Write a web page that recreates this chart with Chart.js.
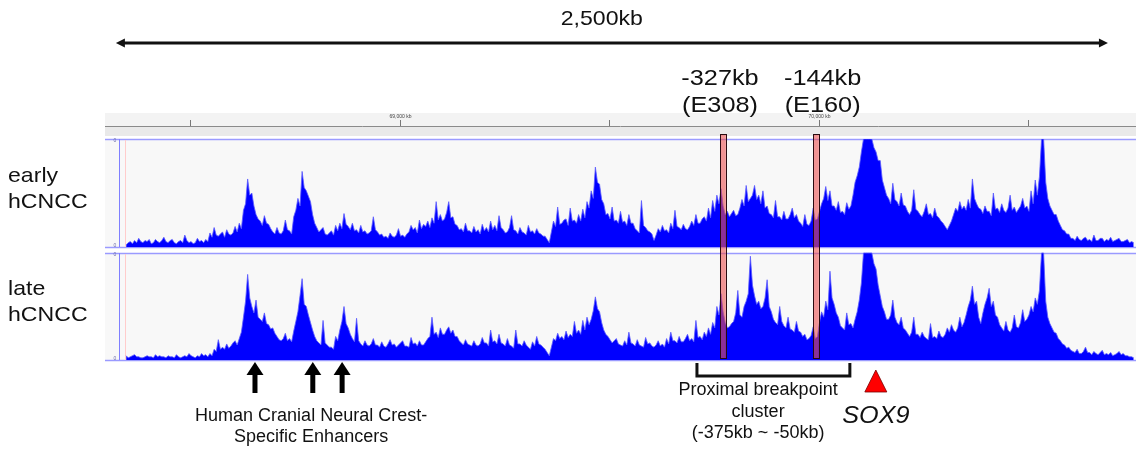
<!DOCTYPE html>
<html>
<head>
<meta charset="utf-8">
<script src="https://cdn.jsdelivr.net/npm/chart.js@4.4.1/dist/chart.umd.min.js"></script>
<style>
  html, body { margin: 0; padding: 0; background: #ffffff; overflow: hidden; }
  canvas { display: block; }
</style>
</head>
<body>
<canvas id="igv" width="1136" height="450"></canvas>
<script>
// ---- genomic window (chr17, kb) and binned coverage, in % of track height ----
const BIN_START_KB = 68344;
const BIN_KB = 5;

const earlySignal = [
  2, 4, 5, 3, 6, 4, 8, 5, 4, 6, 5, 7, 3, 4, 7, 5, 4, 6, 9, 5,
  4, 6, 7, 4, 3, 5, 6, 4, 11, 6, 4, 5, 3, 4, 8, 5, 6, 4, 7, 5,
  13, 9, 18, 11, 10, 12, 14, 9, 16, 12, 11, 13, 19, 14, 22, 17, 34, 40, 63, 48,
  50, 38, 30, 26, 24, 20, 29, 22, 21, 17, 14, 12, 18, 13, 12, 15, 25, 16, 15, 12,
  28, 34, 45, 38, 70, 55, 52, 47, 42, 30, 22, 18, 14, 16, 18, 12, 11, 13, 15, 11,
  20, 15, 22, 17, 31, 21, 19, 16, 22, 15, 16, 13, 20, 14, 15, 12, 13, 15, 28, 16,
  14, 11, 12, 9, 10, 8, 13, 10, 9, 11, 17, 10, 11, 9, 12, 14, 20, 16, 18, 13,
  25, 17, 21, 19, 24, 18, 27, 22, 42, 25, 30, 24, 26, 32, 42, 27, 28, 21, 20, 16,
  17, 14, 22, 15, 15, 13, 19, 14, 16, 12, 21, 15, 18, 14, 24, 16, 20, 15, 29, 18,
  16, 13, 14, 18, 29, 16, 15, 12, 18, 14, 13, 11, 20, 14, 15, 12, 17, 13, 12, 10,
  10, 7, 4, 14, 24, 19, 37, 21, 22, 25, 26, 20, 36, 24, 25, 22, 30, 24, 35, 27,
  42, 36, 52, 45, 74, 60, 58, 44, 40, 30, 31, 26, 37, 24, 25, 22, 33, 23, 24, 20,
  30, 22, 22, 17, 15, 13, 43, 20, 18, 15, 14, 12, 6, 11, 17, 14, 20, 15, 16, 13,
  22, 17, 34, 19, 18, 16, 21, 17, 16, 19, 24, 20, 30, 22, 22, 26, 28, 24, 36, 27,
  43, 33, 48, 40, 54, 38, 30, 33, 28, 31, 34, 29, 30, 36, 44, 38, 57, 42, 45, 48,
  57, 44, 48, 40, 52, 36, 38, 31, 30, 27, 43, 28, 28, 25, 33, 26, 26, 30, 36, 27,
  30, 24, 22, 19, 30, 21, 20, 24, 36, 25, 26, 33, 40, 45, 56, 43, 52, 38, 38, 34,
  42, 32, 33, 30, 41, 35, 38, 48, 60, 66, 74, 88, 100, 100, 100, 100, 100, 92, 88, 80,
  80, 62, 55, 48, 45, 40, 59, 44, 42, 38, 50, 39, 38, 33, 30, 34, 53, 35, 33, 30,
  28, 33, 40, 30, 31, 27, 36, 29, 27, 24, 22, 19, 16, 20, 24, 30, 36, 33, 42, 35,
  38, 34, 44, 36, 63, 45, 40, 36, 35, 31, 38, 33, 33, 29, 50, 35, 36, 32, 40, 34,
  32, 36, 48, 34, 37, 32, 35, 38, 45, 36, 38, 33, 52, 40, 62, 48, 65, 100, 100, 60,
  45, 38, 34, 30, 30, 24, 20, 16, 15, 12, 12, 8, 8, 6, 10, 7, 6, 8, 9, 6,
  7, 5, 11, 6, 6, 8, 8, 5, 7, 6, 9, 5, 6, 7, 8, 5, 5, 6, 7, 4, 5, 4
];

const lateSignal = [
  4, 2, 3, 4, 5, 3, 3, 2, 2, 3, 4, 3, 3, 2, 5, 3, 4, 3, 3, 2,
  4, 3, 3, 2, 5, 3, 2, 3, 4, 3, 6, 4, 3, 2, 4, 3, 6, 4, 5, 3,
  6, 4, 10, 8, 19, 10, 12, 10, 15, 11, 13, 16, 18, 14, 20, 26, 40, 55, 80, 58,
  50, 44, 56, 40, 38, 36, 44, 34, 33, 29, 30, 25, 22, 19, 18, 20, 25, 18, 20, 17,
  27, 36, 45, 60, 76, 52, 50, 42, 35, 28, 22, 18, 16, 14, 37, 16, 14, 12, 12, 10,
  22, 18, 28, 36, 50, 34, 30, 24, 20, 17, 39, 18, 15, 13, 18, 14, 13, 15, 20, 14,
  14, 12, 17, 13, 12, 15, 19, 14, 15, 12, 14, 16, 18, 13, 13, 12, 21, 15, 16, 13,
  18, 14, 14, 17, 20, 22, 40, 24, 26, 21, 30, 24, 24, 28, 31, 25, 28, 22, 22, 18,
  16, 14, 19, 15, 14, 13, 18, 14, 13, 15, 21, 16, 16, 13, 28, 17, 18, 15, 24, 16,
  15, 13, 20, 14, 13, 11, 28, 15, 15, 13, 18, 14, 12, 10, 17, 13, 22, 15, 14, 12,
  10, 7, 4, 12, 20, 18, 25, 20, 22, 19, 27, 21, 24, 22, 36, 25, 28, 24, 37, 28,
  40, 33, 38, 46, 59, 48, 45, 35, 28, 24, 22, 19, 16, 18, 20, 15, 14, 13, 18, 14,
  26, 16, 15, 13, 19, 14, 13, 12, 21, 15, 16, 13, 12, 14, 18, 13, 15, 12, 20, 15,
  26, 18, 18, 16, 22, 17, 17, 20, 24, 18, 20, 17, 37, 21, 22, 19, 26, 22, 30, 24,
  35, 30, 50, 42, 62, 45, 35, 30, 31, 34, 36, 44, 65, 42, 40, 50, 55, 62, 97, 70,
  60, 52, 55, 48, 50, 58, 75, 50, 45, 38, 35, 33, 50, 36, 32, 30, 40, 29, 28, 26,
  36, 27, 26, 22, 24, 19, 20, 23, 31, 20, 22, 35, 45, 40, 55, 47, 83, 58, 52, 44,
  40, 32, 30, 28, 44, 33, 34, 30, 38, 45, 56, 72, 100, 100, 100, 100, 100, 90, 85, 70,
  60, 50, 45, 38, 38, 42, 56, 40, 35, 33, 40, 30, 28, 25, 22, 26, 40, 24, 24, 21,
  26, 22, 20, 19, 34, 21, 22, 20, 27, 22, 21, 24, 30, 26, 33, 28, 26, 30, 40, 31,
  35, 42, 50, 56, 69, 52, 55, 40, 34, 44, 52, 58, 67, 50, 55, 42, 40, 33, 30, 27,
  36, 28, 26, 30, 42, 31, 30, 35, 47, 36, 38, 42, 50, 45, 58, 52, 65, 100, 100, 55,
  40, 34, 30, 26, 25, 20, 18, 15, 14, 11, 12, 9, 8, 7, 10, 6, 6, 8, 12, 7,
  7, 5, 8, 6, 5, 7, 9, 5, 6, 5, 7, 4, 5, 6, 8, 5, 6, 4, 4, 3, 3, 2
];

// ruler
const rulerTicksKb = [68500, 69000, 69500, 70000, 70500];
const rulerLabels = ['', '69,000 kb', '', '70,000 kb', ''];

// track names
const trackNames = [['early', 'hCNCC'], ['late', 'hCNCC']];

// scale bar
const spanKb = [68322, 70690];
const spanLabel = '2,500kb';
const spanLabelKb = 69482;

// enhancer elements tested
const elementKb = [69771, 69993];
const elementLabels = [['-327kb', '(E308)'], ['-144kb', '(E160)']];
const elementLabelKb = [69764, 70009];

// cranial neural crest specific enhancers
const enhancerKb = [68654, 68792, 68862];
const enhancerLabel = ['Human Cranial Neural Crest-', 'Specific Enhancers'];
const enhancerLabelKb = 68788;

// breakpoint cluster
const clusterKb = [69709, 70074];
const clusterLabel = ['Proximal breakpoint', 'cluster', '(-375kb ~ -50kb)'];
const clusterLabelKb = 69855;

// gene
const geneKb = 70136;
const geneLabel = 'SOX9';

// ---- layout ----
const FONT = '"Liberation Sans", Arial, sans-serif';
const AREA = { left: 105, top: 139, bottom: 360, right: 1136 };
const TRACKS = [{ top: 139, base: 247 }, { top: 253, base: 360 }];
const FULL = 100;

function axisRange(t) {
  const ppu = (t.base - t.top) / FULL;
  return { min: -(AREA.bottom - t.base) / ppu, max: FULL + (t.top - AREA.top) / ppu };
}
const rEarly = axisRange(TRACKS[0]);
const rLate = axisRange(TRACKS[1]);

const toPoints = arr => arr.map((v, i) => ({ x: BIN_START_KB + (i + 0.5) * BIN_KB, y: v }));

function text(ctx, str, x, y, font, align, sx, color) {
  ctx.save();
  ctx.font = font;
  ctx.fillStyle = color || '#111111';
  ctx.textAlign = align;
  ctx.textBaseline = 'alphabetic';
  ctx.translate(x, y);
  ctx.scale(sx || 1, 1);
  ctx.fillText(str, 0, 0);
  ctx.restore();
}

// panels, ruler and track frames
const igvFrame = {
  id: 'igvFrame',
  beforeDatasetsDraw(chart) {
    const ctx = chart.ctx;
    const xs = chart.scales.x;
    ctx.save();
    // ruler band
    ctx.fillStyle = '#f3f3f3';
    ctx.fillRect(AREA.left, 113, AREA.right - AREA.left, 13);
    ctx.fillStyle = '#e9e9e9';
    ctx.fillRect(AREA.left, 127, AREA.right - AREA.left, 9);
    ctx.strokeStyle = '#8a8a8a';
    ctx.lineWidth = 1;
    ctx.beginPath();
    ctx.moveTo(AREA.left, 126.5); ctx.lineTo(AREA.right, 126.5);
    ctx.stroke();
    rulerTicksKb.forEach((kb, i) => {
      const px = Math.round(xs.getPixelForValue(kb)) + 0.5;
      ctx.strokeStyle = '#777777';
      ctx.beginPath(); ctx.moveTo(px, 120); ctx.lineTo(px, 126); ctx.stroke();
      if (rulerLabels[i]) text(ctx, rulerLabels[i], px, 117.5, '5px ' + FONT, 'center', 1, '#444444');
    });
    // track panels
    TRACKS.forEach(t => {
      ctx.fillStyle = '#f8f8f8';
      ctx.fillRect(AREA.left, t.top, AREA.right - AREA.left, t.base - t.top);
      ctx.strokeStyle = '#9a9aff';
      ctx.lineWidth = 1.5;
      ctx.beginPath();
      ctx.moveTo(AREA.left, t.top + 0.5); ctx.lineTo(AREA.right, t.top + 0.5);
      ctx.moveTo(AREA.left, t.base + 0.5); ctx.lineTo(AREA.right, t.base + 0.5);
      ctx.stroke();
      ctx.strokeStyle = '#7f7fff';
      ctx.lineWidth = 1;
      ctx.beginPath(); ctx.moveTo(119.5, t.top); ctx.lineTo(119.5, t.base); ctx.stroke();
      ctx.strokeStyle = '#ffcccc';
      ctx.beginPath(); ctx.moveTo(125.5, t.top + 1); ctx.lineTo(125.5, t.base); ctx.stroke();
      text(ctx, '0', 115, t.top + 3, '5px ' + FONT, 'center', 1, '#6a6aaa');
      text(ctx, '0', 115, t.base, '5px ' + FONT, 'center', 1, '#6a6aaa');
    });
    ctx.restore();
  }
};

// element bars, arrows, bracket, gene marker and labels
const igvNotes = {
  id: 'igvNotes',
  afterDatasetsDraw(chart) {
    const ctx = chart.ctx;
    const xs = chart.scales.x;
    const X = kb => xs.getPixelForValue(kb);
    ctx.save();

    // scale bar
    const a = X(spanKb[0]), b = X(spanKb[1]);
    ctx.strokeStyle = '#111111';
    ctx.fillStyle = '#111111';
    ctx.lineWidth = 3;
    ctx.beginPath(); ctx.moveTo(a + 5, 43); ctx.lineTo(b - 5, 43); ctx.stroke();
    ctx.beginPath(); ctx.moveTo(a, 43); ctx.lineTo(a + 9, 38.5); ctx.lineTo(a + 9, 47.5); ctx.closePath(); ctx.fill();
    ctx.beginPath(); ctx.moveTo(b, 43); ctx.lineTo(b - 9, 38.5); ctx.lineTo(b - 9, 47.5); ctx.closePath(); ctx.fill();
    text(ctx, spanLabel, X(spanLabelKb), 25, '21px ' + FONT, 'center', 1.1);

    // element labels
    elementLabels.forEach((lines, i) => {
      const cx = X(elementLabelKb[i]);
      text(ctx, lines[0], cx, 85, '22px ' + FONT, 'center', 1.15);
      text(ctx, lines[1], cx, 112, '22px ' + FONT, 'center', 1.15);
    });

    // element bars across both tracks
    elementKb.forEach(kb => {
      const l = X(kb - 7), r = X(kb + 7);
      ctx.fillStyle = 'rgba(235, 80, 80, 0.6)';
      ctx.fillRect(l, 134, r - l, 225);
      ctx.strokeStyle = '#2a0a10';
      ctx.lineWidth = 1;
      ctx.strokeRect(Math.round(l) + 0.5, 134.5, Math.round(r - l), 224);
    });

    // track names
    trackNames.forEach((lines, i) => {
      const y0 = i === 0 ? 182 : 295;
      text(ctx, lines[0], 8, y0, '21px ' + FONT, 'left', 1.1);
      text(ctx, lines[1], 8, y0 + 26, '21px ' + FONT, 'left', 1.1);
    });

    // enhancer arrows
    ctx.fillStyle = '#000000';
    enhancerKb.forEach(kb => {
      const cx = X(kb);
      ctx.fillRect(cx - 2.5, 374, 5, 19);
      ctx.beginPath();
      ctx.moveTo(cx, 362); ctx.lineTo(cx + 8.5, 375); ctx.lineTo(cx - 8.5, 375);
      ctx.closePath(); ctx.fill();
    });
    text(ctx, enhancerLabel[0], X(enhancerLabelKb), 421, '18px ' + FONT, 'center', 1);
    text(ctx, enhancerLabel[1], X(enhancerLabelKb), 442, '18px ' + FONT, 'center', 1);

    // breakpoint cluster bracket
    const c0 = X(clusterKb[0]), c1 = X(clusterKb[1]);
    ctx.strokeStyle = '#111111';
    ctx.lineWidth = 3;
    ctx.lineJoin = 'miter';
    ctx.beginPath();
    ctx.moveTo(c0, 363); ctx.lineTo(c0, 376); ctx.lineTo(c1, 376); ctx.lineTo(c1, 363);
    ctx.stroke();
    clusterLabel.forEach((s, i) => {
      text(ctx, s, X(clusterLabelKb), [395, 417, 438][i], '18px ' + FONT, 'center', 1);
    });

    // gene marker
    const g = X(geneKb);
    ctx.fillStyle = '#ff0000';
    ctx.strokeStyle = '#7a0000';
    ctx.lineWidth = 0.8;
    ctx.beginPath();
    ctx.moveTo(g, 370); ctx.lineTo(g + 11, 392); ctx.lineTo(g - 11, 392);
    ctx.closePath(); ctx.fill(); ctx.stroke();
    text(ctx, geneLabel, g, 423, 'italic 24px ' + FONT, 'center', 1.05);

    ctx.restore();
  }
};

new Chart(document.getElementById('igv'), {
  type: 'line',
  data: {
    datasets: [
      {
        label: 'early hCNCC',
        data: toPoints(earlySignal),
        yAxisID: 'yEarly',
        fill: 'origin',
        backgroundColor: '#0000ff',
        borderColor: 'rgba(90, 90, 255, 0.8)',
        borderWidth: 1,
        pointRadius: 0,
        tension: 0
      },
      {
        label: 'late hCNCC',
        data: toPoints(lateSignal),
        yAxisID: 'yLate',
        fill: 'origin',
        backgroundColor: '#0000ff',
        borderColor: 'rgba(90, 90, 255, 0.8)',
        borderWidth: 1,
        pointRadius: 0,
        tension: 0
      }
    ]
  },
  options: {
    responsive: false,
    animation: false,
    devicePixelRatio: 1,
    layout: { padding: { left: AREA.left, right: 1136 - AREA.right, top: AREA.top, bottom: 450 - AREA.bottom } },
    plugins: { legend: { display: false }, tooltip: { enabled: false } },
    scales: {
      x: { type: 'linear', display: false, min: 68296, max: 70757 },
      yEarly: { display: false, min: rEarly.min, max: rEarly.max },
      yLate: { display: false, min: rLate.min, max: rLate.max }
    }
  },
  plugins: [igvFrame, igvNotes]
});
</script>
</body>
</html>
